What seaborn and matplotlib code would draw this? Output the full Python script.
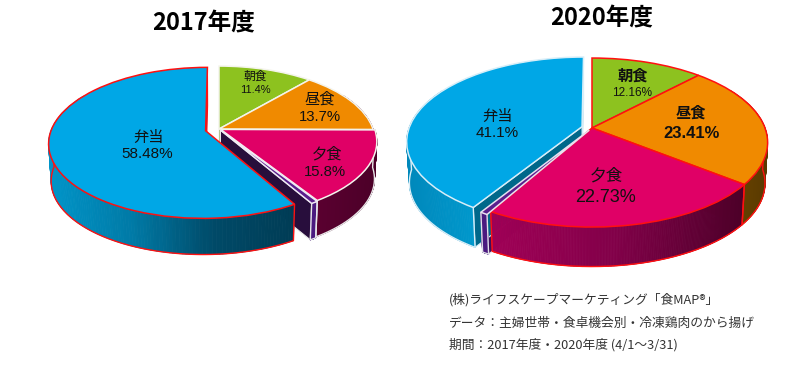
import numpy as np
import matplotlib
matplotlib.use("Agg")
import matplotlib.pyplot as plt
from matplotlib.collections import PolyCollection
from matplotlib.transforms import Transform
import seaborn as sns

categories = ["朝食", "昼食", "夕食", "その他", "弁当"]
values_2017 = [11.4, 13.7, 15.8, 0.62, 58.48]
values_2020 = [12.16, 23.41, 22.73, 0.6, 41.1]
label_text_2017 = ["11.4%", "13.7%", "15.8%", "", "58.48%"]
label_text_2020 = ["12.16%", "23.41%", "22.73%", "", "41.1%"]
top_colors = ["#8dc21f", "#f08a00", "#e00066", "#5a1e8c", "#00a7e6"]
explode_2017 = [0, 0, 0.012, 0.018, 0.09]
explode_2020 = [0, 0, 0, 0.03, 0.06]
footer_lines = ["(株)ライフスケープマーケティング「食MAP®」",
                "データ：主婦世帯・食卓機会別・冷凍鶏肉のから揚げ",
                "期間：2017年度・2020年度 (4/1～3/31)"]

sns.set_theme(style="white")
FONT = ["Liberation Sans", "Noto Sans CJK JP", "DejaVu Sans"]
CJK = ["Noto Sans CJK JP", "DejaVu Sans"]
plt.rcParams["font.family"] = FONT

fig = plt.figure(figsize=(8, 3.65), dpi=100, facecolor="white")
ax = fig.add_axes([0, 0, 1, 1])


class Persp(Transform):
    """Tilted-disc projection of the pie plane to picture coordinates."""
    input_dims = 2
    output_dims = 2

    def __init__(self, cx, cy, rx, ry, k):
        super().__init__()
        self.p = (cx, cy, rx, ry, k)

    def transform_non_affine(self, xy):
        cx, cy, rx, ry, k = self.p
        xy = np.asarray(xy, float)
        w = 1 + k * xy[..., 1]
        return np.stack([cx + rx * xy[..., 0] / w, cy - ry * xy[..., 1] / w], -1)


def rim(w, a):
    a = np.radians(a)
    return np.stack([w.center[0] + w.r * np.cos(a), w.center[1] + w.r * np.sin(a)], -1)


def draw_pie(values, explode, P, depth, scale, edges, wall_cols, face_cols, side_edges):
    wedges, _ = ax.pie(values, explode=explode, startangle=90, counterclock=False,
                       colors=top_colors, radius=1)
    T = Persp(*P)
    apex0 = np.array(P[:2])
    low = lambda q: apex0 + (q - apex0) * scale + np.array([0, depth])

    # cut faces
    for w, ec, fc in zip(wedges, side_edges, face_cols):
        A = T.transform_non_affine(np.array(w.center))
        M = T.transform_non_affine(rim(w, (w.theta1 + w.theta2) / 2))
        for th in (w.theta1, w.theta2):
            R = T.transform_non_affine(rim(w, th))
            d = R - A
            n = np.array([-d[1], d[0]])
            n = n * np.sign(n @ (M - A))
            if n[1] < 0 and abs(d[1]) > 1:
                ax.fill(*np.array([A, R, low(R), low(A)]).T, fc=fc, ec=ec, lw=0.8, zorder=2)

    # outer walls; the rear part runs on under the top surface so the silhouette closes
    for w, ec, cols in zip(wedges, side_edges, wall_cols):
        angs = np.linspace(w.theta1, w.theta2, 200)
        angs = angs[rim(w, angs)[:, 1] < 0.5]
        if len(angs) < 2:
            continue
        top = T.transform_non_affine(rim(w, angs))
        bot = low(top)
        pal = sns.blend_palette(cols, 64)
        x = (top[:-1, 0] + top[1:, 0]) / 2
        u = (x - x.min()) / max(np.ptp(x), 1e-6)
        fc = [pal[int(v * 63)] for v in u]
        quads = [[top[i], top[i + 1], bot[i + 1], bot[i]] for i in range(len(top) - 1)]
        ax.add_collection(PolyCollection(quads, facecolors=fc, edgecolors=fc, linewidths=0.6, zorder=3))
        front = rim(w, angs)[:, 1] < 0
        if front.sum() >= 2:
            t, b = top[front], bot[front]
            ax.plot(*np.vstack([t[0], b, t[-1]]).T, color=ec, lw=1.0, zorder=3.5)

    # top surfaces
    for w, ec in zip(wedges, edges):
        w.set_transform(T + ax.transData)
        w.set(edgecolor=ec, linewidth=1.1, zorder=5, clip_on=False)


draw_pie(values_2017, explode_2017, (219, 129, 154, 73, 0.16), 37.5, 0.985,
         edges=["#f4f4ec", "#f4f4ec", "#f4f4ec", "#f0eaf5", "#ff1010"],
         wall_cols=[["#5a8010", "#5a8010"], ["#5a0030", "#5a0030"], ["#5a0030", "#4c0028"],
                    ["#4b1a80", "#4b1a80"], ["#0094c8", "#007aa6", "#004a68", "#003c55"]],
         face_cols=["#5a8010", "#5e3c00", "#280e3c", "#280e3c", "#00688a"],
         side_edges=["#f4f4ec", "#5a0030", "#e8e8e8", "#e8e8e8", "#ff1010"])

draw_pie(values_2020, explode_2020, (592, 128, 173, 82, 0.172), 41, 0.985,
         edges=["#ff1010", "#ff1010", "#ff1010", "#e8e0f0", "#d8eef8"],
         wall_cols=[["#5a8010", "#5a8010"], ["#6a4400", "#5a3a00"], ["#a00056", "#800048", "#4c0028"],
                    ["#4b1a80", "#4b1a80"], ["#0088bb", "#0090c4", "#0098cc"]],
         face_cols=["#5a8010", "#5e3c00", "#3c0f5c", "#3c0f5c", "#00688a"],
         side_edges=["#ff1010", "#ff1010", "#ff1010", "#e0e0e8", "#d8eef8"])

ax.set_aspect("auto")
ax.set_xlim(0, 800)
ax.set_ylim(365, 0)
ax.set_axis_off()


def put(x, y, s, size, weight="normal", family=FONT, color="#111111", ha="center"):
    ax.text(x, y, s, fontsize=size, fontweight=weight, family=family, color=color,
            ha=ha, va="center", zorder=8)


put(204, 23, "2017年度", 17, "bold", CJK, "black")
put(602, 18, "2020年度", 17, "bold", CJK, "black")

put(255, 76, categories[0], 8.5, family=CJK)
put(255, 90, label_text_2017[0], 8)
put(320, 99, categories[1], 11, family=CJK)
put(320, 117, label_text_2017[1], 10.7)
put(327, 154, categories[2], 11, family=CJK)
put(325, 172, label_text_2017[2], 10.7)
put(148, 137, categories[4], 11, family=CJK)
put(147, 154, label_text_2017[4], 11)

put(633, 76, categories[0], 11, "bold", CJK)
put(632, 93, label_text_2020[0], 8.5)
put(691, 113, categories[1], 11, "bold", CJK)
put(692, 133, label_text_2020[1], 12, "bold")
put(606, 176, categories[2], 12, family=CJK)
put(605, 197, label_text_2020[2], 13)
put(497, 116, categories[4], 11, family=CJK)
put(497, 133, label_text_2020[4], 11)

for y, line in zip((300, 323, 345), footer_lines):
    put(449, y, line, 9.2, family=CJK, color="#333333", ha="left")

fig.savefig("out.png", dpi=100, facecolor="white")
